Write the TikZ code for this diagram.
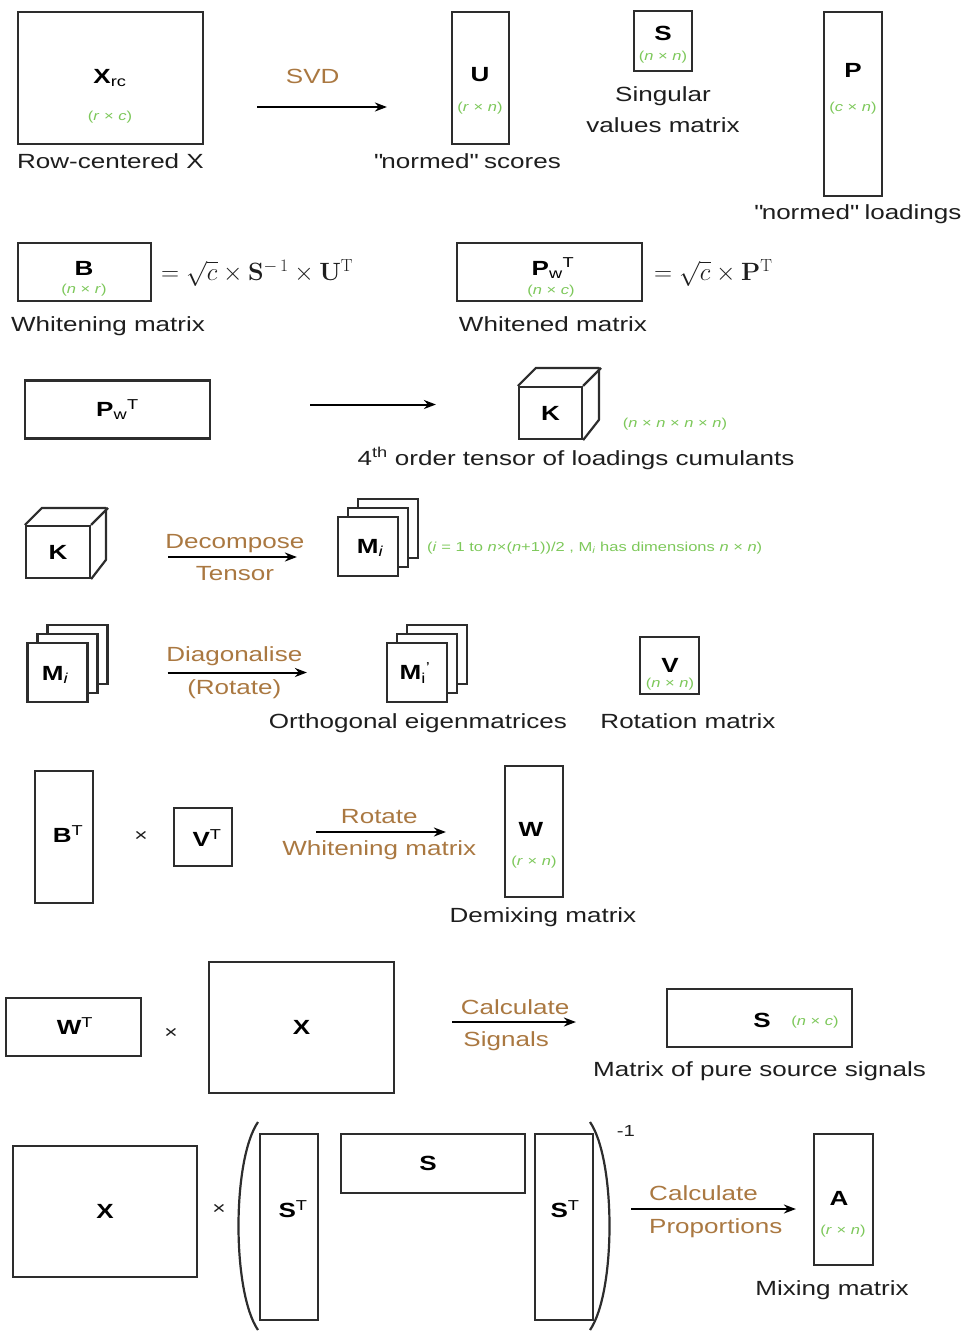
\RequirePackage{fix-cm}
\documentclass[tikz,border=0pt]{standalone}
\usepackage[no-math]{fontspec}
\setmainfont{Liberation Sans}[FakeStretch=1.27]
\usetikzlibrary{positioning, arrows.meta}
\definecolor{boxline}{RGB}{45,45,45}
\definecolor{txtdark}{RGB}{30,30,30}
\definecolor{stepbrown}{RGB}{170,120,65}
\definecolor{dimgreen}{RGB}{125,200,90}
\tikzstyle{mat} = [rectangle, draw=boxline, line width=2.2pt, fill=white, inner sep=0pt, font=\fontsize{20.5}{24}\selectfont\bfseries]
\tikzstyle{page} = [mat, minimum width=60pt, minimum height=59pt]
\tikzstyle{mname} = [font=\fontsize{20.5}{24}\selectfont\bfseries, text=black, inner sep=0pt]
\tikzstyle{dims} = [font=\fontsize{13}{15}\selectfont, text=dimgreen, inner sep=0pt]
\tikzstyle{caption} = [font=\fontsize{20.5}{31}\selectfont, text=txtdark, inner sep=0pt, align=center]
\tikzstyle{steplbl} = [font=\fontsize{20.5}{31}\selectfont, text=stepbrown, inner sep=1pt]
\tikzstyle{formula} = [font=\fontsize{25}{29}\selectfont, text=txtdark, inner sep=0pt, anchor=west]
\tikzstyle{times} = [font=\fontsize{18}{20}\selectfont, text=txtdark, inner sep=0pt]
\tikzstyle{arrow} = [line width=2pt,->,>={Stealth[length=12pt, width=9pt]}]
\tikzstyle{edge} = [draw=boxline, line width=2.2pt, line join=round]

\begin{document}
\begin{tikzpicture}[x=1pt, y=-1pt]
\useasboundingbox (0,0) rectangle (968,1331);

% SVD of the row-centered data
\node (xrc) [mat, minimum width=185pt, minimum height=132pt] at (110.5,78) {};
\node (xrcname) [mname] at (110,78) {X\textsubscript{\mdseries rc}};
\node (xrcdim) [dims] at (110,117) {(\textit{r} × \textit{c})};
\node (xrccap) [caption, below=8pt of xrc] {Row-centered X};

\node (u) [mat, minimum width=57pt, minimum height=132pt] at (480.5,78) {};
\node (uname) [mname] at (480,75) {U};
\node (udim) [dims] at (480,108) {(\textit{r} × \textit{n})};
\node (ucap) [caption, below=8pt of u, xshift=-13pt] {\textquotedbl normed\textquotedbl{} scores};

\node (s1) [mat, minimum width=58pt, minimum height=60pt] at (663,41) {};
\node (s1name) [mname] at (663,33) {S};
\node (s1dim) [dims] at (663,57) {(\textit{n} × \textit{n})};
\node (s1cap) [caption, below=14pt of s1] {Singular\\values matrix};

\node (p) [mat, minimum width=58pt, minimum height=184pt] at (853,104) {};
\node (pname) [mname] at (853,70) {P};
\node (pdim) [dims] at (853,108) {(\textit{c} × \textit{n})};
\node (pcap) [caption, below=7pt of p, xshift=5pt] {\textquotedbl normed\textquotedbl{} loadings};

\draw [arrow, shorten <=53pt, shorten >=64pt] ([yshift=-29pt]xrc.east) -- node[steplbl, above=21pt, pos=0.44] {SVD} ([yshift=-29pt]xrc.east -| u.west);

% whitening
\node (b) [mat, minimum width=133pt, minimum height=58pt] at (84.5,272) {};
\node (bname) [mname] at (84,268) {B};
\node (bdim) [dims] at (84,290) {(\textit{n} × \textit{r})};
\node (bform) [formula] at (161,273) {$=\sqrt{c}\times\mathbf{S}^{-\,1}\times\mathbf{U}^{\mathrm{T}}$};
\node (bcap) [caption, below=14pt of b, xshift=23.5pt] {Whitening matrix};

\node (pw1) [mat, minimum width=185pt, minimum height=58pt] at (549.5,272) {};
\node (pw1name) [mname] at (553,268) {P\textsubscript{\mdseries w}\textsuperscript{\mdseries T}};
\node (pw1dim) [dims] at (551,291) {(\textit{n} × \textit{c})};
\node (pw1form) [formula] at (654,273) {$=\sqrt{c}\times\mathbf{P}^{\mathrm{T}}$};
\node (pw1cap) [caption, below=14pt of pw1, xshift=3.5pt] {Whitened matrix};

% cumulant tensor
\node (pw2) [mat, minimum width=185pt, minimum height=58pt] at (117.5,409.5) {P\textsubscript{\mdseries w}\textsuperscript{\mdseries T}};
\node (k1) [mat, minimum width=63pt, minimum height=52pt] at (550.5,413) {K};
\draw [edge] (k1.north west) -- ++(18,-18) -- ++(63,0) -- ++(0,52) -- (k1.south east);
\draw [edge] (k1.north east) -- ++(18,-18);
\node (k1dim) [dims] at (675,424) {(\textit{n} × \textit{n} × \textit{n} × \textit{n})};
\node (k1cap) [caption, below=7pt of k1, xshift=25.5pt] {4\textsuperscript{th} order tensor of loadings cumulants};
\draw [arrow, shorten <=99pt, shorten >=82pt] ([yshift=5pt]pw2.east) -- ([yshift=5pt]pw2.east -| k1.west);

% decomposition into eigenmatrices
\node (k2) [mat, minimum width=64pt, minimum height=52pt] at (58,552) {K};
\draw [edge] (k2.north west) -- ++(17,-17) -- ++(64,0) -- ++(0,52) -- (k2.south east);
\draw [edge] (k2.north east) -- ++(17,-17);

\foreach \d/\s in {2/c,1/b}
  \node (mi1\s) [page] at (368+10*\d,546.5-9*\d) {};
\node (mi1) [page] at (368,546.5) {};
\node (mi1name) [mname] at (370,548) {M\textsubscript{\mdseries\itshape i}};
\node (mi1dim) [dims, anchor=west] at (427,548) {(\textit{i} = 1 to \textit{n}×(\textit{n}+1))/2 , M\textsubscript{\textit{i}} has dimensions \textit{n} × \textit{n})};

\draw [arrow, shorten <=77pt, shorten >=40pt] ([yshift=-5pt]k2.east) -- node[steplbl, above=2pt, pos=0.585] {Decompose} node[steplbl, below=7pt, pos=0.585] {Tensor} ([yshift=-5pt]k2.east -| mi1.west);

% diagonalisation
\foreach \d/\s in {2/c,1/b}
  \node (mi2\s) [page] at (57.5+10*\d,672.5-9*\d) {};
\node (mi2) [page] at (57.5,672.5) {};
\node (mi2name) [mname] at (55,675) {M\textsubscript{\mdseries\itshape i}};

\foreach \d/\s in {2/c,1/b}
  \node (mi3\s) [page] at (417+10*\d,672.5-9*\d) {};
\node (mi3) [page] at (417,672.5) {};
\node (mi3name) [mname] at (415,673) {M\textsubscript{\mdseries i}\textsuperscript{\mdseries '}};
\node (mi3cap) [caption, below=10pt of mi3, xshift=1pt] {Orthogonal eigenmatrices};

\draw [arrow, shorten <=79pt, shorten >=79pt] (mi2.east) -- node[steplbl, above=5pt, pos=0.49] {Diagonalise} node[steplbl, below=5pt, pos=0.49] {(Rotate)} (mi3.west);

\node (v) [mat, minimum width=59pt, minimum height=57pt] at (669.5,665.5) {};
\node (vname) [mname] at (670,665) {V};
\node (vdim) [dims] at (670,684) {(\textit{n} × \textit{n})};
\node (vcap) [caption, below=18pt of v, xshift=18.5pt] {Rotation matrix};

% demixing matrix
\node (bt) [mat, minimum width=58pt, minimum height=132pt] at (64,837) {};
\node (btname) [mname] at (68,834) {B\textsuperscript{\mdseries T}};
\node (times1) [times] at (141,836) {×};
\node (vt) [mat, minimum width=58pt, minimum height=58pt] at (203,837) {};
\node (vtname) [mname] at (207,838) {V\textsuperscript{\mdseries T}};

\node (w) [mat, minimum width=58pt, minimum height=131pt] at (534,831.5) {};
\node (wname) [mname] at (531,829) {W};
\node (wdim) [dims] at (534,862) {(\textit{r} × \textit{n})};
\node (wcap) [caption, below=9pt of w, xshift=9pt] {Demixing matrix};

\draw [arrow, shorten <=83pt, shorten >=58pt] ([yshift=5pt]vt.east) -- node[steplbl, above=6pt, pos=0.54] {Rotate} node[steplbl, below=7pt, pos=0.54] {Whitening matrix} ([yshift=5pt]vt.east -| w.west);

% source signals
\node (wt) [mat, minimum width=135pt, minimum height=58pt] at (73.5,1027) {};
\node (wtname) [mname] at (75,1026) {W\textsuperscript{\mdseries T}};
\node (times2) [times] at (171,1033) {×};
\node (x1) [mat, minimum width=185pt, minimum height=131pt] at (301.5,1027.5) {X};

\node (s2) [mat, minimum width=185pt, minimum height=58pt] at (759.5,1018) {};
\node (s2name) [mname] at (762,1020) {S};
\node (s2dim) [dims] at (815,1022) {(\textit{n} × \textit{c})};
\node (s2cap) [caption, below=13pt of s2] {Matrix of pure source signals};

\draw [arrow, shorten <=57pt, shorten >=90pt] ([yshift=5.5pt]x1.east) -- node[steplbl, above=5pt, pos=0.443] {Calculate} node[steplbl, below=8pt, pos=0.41] {Signals} ([yshift=5.5pt]x1.east -| s2.west);

% mixing matrix
\node (x2) [mat, minimum width=184pt, minimum height=131pt] at (105,1211.5) {X};
\node (times3) [times] at (219,1209) {×};
\draw [edge] (258,1122) .. controls (232,1160) and (232,1292) .. (258,1330);
\draw [edge] (590,1122) .. controls (616,1160) and (616,1292) .. (590,1330);
\node (inv) [times, font=\fontsize{16}{18}\selectfont] at (626,1131) {-1};
\node (st1) [mat, minimum width=58pt, minimum height=186pt] at (289,1227) {};
\node (st1name) [mname] at (293,1209) {S\textsuperscript{\mdseries T}};
\node (s3) [mat, minimum width=184pt, minimum height=59pt] at (433,1163.5) {};
\node (s3name) [mname] at (428,1163) {S};
\node (st2) [mat, minimum width=58pt, minimum height=186pt] at (564,1227) {};
\node (st2name) [mname] at (565,1209) {S\textsuperscript{\mdseries T}};

\node (a) [mat, minimum width=59pt, minimum height=131pt] at (843.5,1199.5) {};
\node (aname) [mname] at (839,1198) {A};
\node (adim) [dims] at (843,1231) {(\textit{r} × \textit{n})};
\node (acap) [caption, below=14pt of a, xshift=-11.5pt] {Mixing matrix};

\draw [arrow, shorten <=37pt, shorten >=17pt] ([yshift=18pt]st2.east) -- node[steplbl, above=6pt, pos=0.5] {Calculate} node[steplbl, below=8pt, pos=0.556] {Proportions} ([yshift=18pt]st2.east -| a.west);

\end{tikzpicture}
\end{document}
